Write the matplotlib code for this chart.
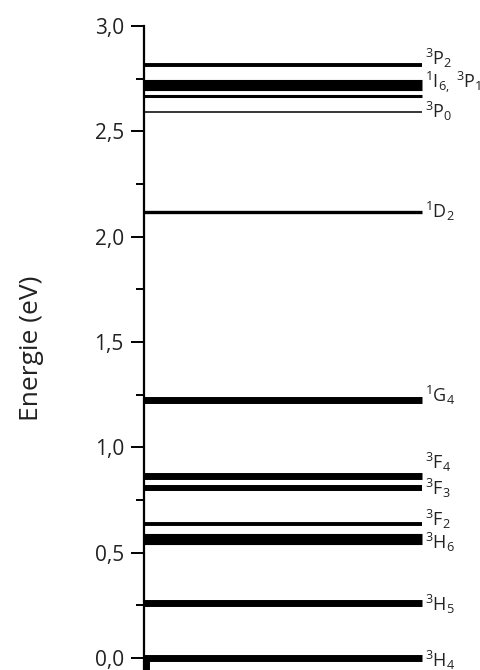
import matplotlib
matplotlib.use('Agg')
import matplotlib.pyplot as plt
from matplotlib.ticker import MultipleLocator, FuncFormatter

plt.rcParams['font.family'] = ['Open Sans', 'DejaVu Sans']
plt.rcParams['mathtext.fontset'] = 'custom'
plt.rcParams['mathtext.rm'] = 'Open Sans'
plt.rcParams['mathtext.it'] = 'Open Sans'

# energy levels (eV)
energies = [0.0, 0.259, 0.563, 0.636, 0.807, 0.864, 1.223, 2.118, 2.593, 2.666, 2.718, 2.816]
names = [r'$^3$H$_4$', r'$^3$H$_5$', r'$^3$H$_6$', r'$^3$F$_2$', r'$^3$F$_3$', r'$^3$F$_4$',
         r'$^1$G$_4$', r'$^1$D$_2$', r'$^3$P$_0$', '', r'$^1$I$_{6,}$ $^3$P$_1$', r'$^3$P$_2$']

# style: line thickness (pt) and label nudges (pt, up is positive)
widths = [5.0, 5.0, 8.0, 2.8, 4.3, 5.0, 5.0, 2.4, 1.1, 2.2, 8.0, 2.8]
nudges = [-1.5, -1.0, -2.0, 3.5, 0.0, 9.5, 3.5, 0.5, 0.0, 0.0, 2.0, 4.5]

fig = plt.figure(figsize=(4.81, 6.70), dpi=100)
ax = fig.add_axes([144 / 481, 0.0, 278 / 481, 1 - 26 / 670])

ax.hlines(energies, 0, 1, colors='black', linewidths=widths, capstyle='butt', clip_on=False)
for e, n, d in zip(energies, names, nudges):
    if n:
        ax.annotate(n, xy=(1, e), xytext=(2, d), textcoords='offset points',
                    ha='left', va='center', fontsize=13, color='#222222')

# little thick stub under the ground state
ax.vlines(0.008, -0.06, 0.0, colors='black', linewidth=5, clip_on=False)

ax.set_xlim(0, 1)
ax.set_ylim(-0.057, 3.0)
for s in ['top', 'right', 'bottom']:
    ax.spines[s].set_visible(False)
ax.spines['left'].set_linewidth(1.6)
ax.set_xticks([])
ax.yaxis.set_major_locator(MultipleLocator(0.5))
ax.yaxis.set_minor_locator(MultipleLocator(0.25))
ax.yaxis.set_major_formatter(FuncFormatter(lambda v, p: ('%.1f' % v).replace('.', ',')))
ax.tick_params(axis='y', which='major', length=9.5, width=1.4, pad=5, labelsize=15, labelcolor='#222222')
ax.tick_params(axis='y', which='minor', length=6, width=1.4)
ax.set_ylabel('Energie (eV)', fontsize=19, color='#222222', labelpad=36)

fig.savefig('out.png', dpi=100)
